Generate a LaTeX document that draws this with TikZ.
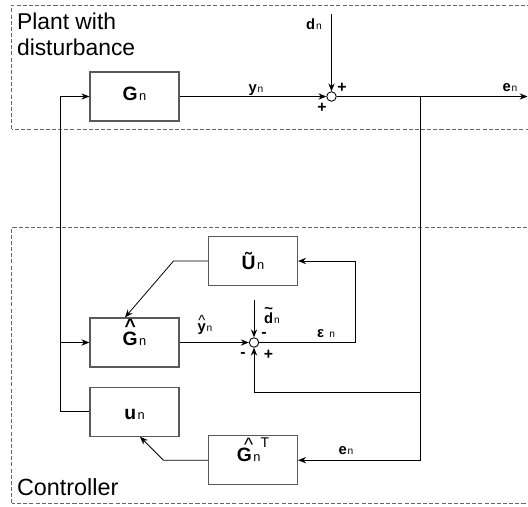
\documentclass[tikz,border=0pt]{standalone}
\usepackage{fontspec}
\setmainfont{Liberation Sans}
\usetikzlibrary{arrows.meta}

% mark set above a symbol, smashed so the node keeps its size
\newcommand{\overmark}[3]{\leavevmode\setbox0\hbox{#3}\rlap{\hbox to\wd0{\hss\raisebox{#2}[0pt][0pt]{#1}\hss}}\box0}
\newcommand{\bn}{\hspace{0.08em}{\mdseries\fontsize{7.3}{9}\selectfont n}}
\newcommand{\lsub}{\hspace{0.06em}{\mdseries\fontsize{5.8}{7}\selectfont n}}

\begin{document}
\begin{tikzpicture}[
		>={Stealth[length=4.5pt,width=3.6pt]},
		block/.style={draw=black!65, line width=0.7pt, minimum width=1.78cm, minimum height=0.98cm,
			inner sep=0pt, text height=0.716em, text depth=0pt, font=\fontsize{11}{13}\selectfont\bfseries},
		junction/.style={circle, draw, line width=0.5pt, fill=white, minimum size=0.19cm, inner sep=0pt},
		zone/.style={draw=black!60, line width=0.5pt, dash pattern=on 2.3pt off 1.2pt},
		sig/.style={font=\fontsize{8.4}{10}\selectfont\bfseries, inner sep=0pt, anchor=base},
		sign/.style={font=\fontsize{9}{10}\selectfont\bfseries, inner sep=0pt},
		wire/.style={line width=0.55pt},
		slant/.style={line width=0.45pt},
	]
	\useasboundingbox (0,0) rectangle (10.56,10.12);

	% ---------- plant with disturbance ----------
	\draw[zone] (0.234,7.534) rectangle (10.8,10.02);
	\node[anchor=north west, inner sep=0pt, align=left, font=\fontsize{13}{14.8}\selectfont]
		(plantlbl) at (0.334,9.866) {Plant with\\disturbance};
	\node[block] (G) at (2.69,8.19) {\raisebox{0.1em}{G\bn}};
	\node[junction] (s1) at (6.63,8.19) {};
	\coordinate (dtop) at (6.63,9.85);
	\coordinate (eout) at (10.55,8.19);
	\coordinate (br) at (8.40,8.19);
	\coordinate (fb) at (1.20,8.19);
	\draw[wire,->] (G.east) -- (s1.west);
	\draw[wire,->] (dtop) -- (s1.north);
	\draw[wire,->] (s1.east) -- (eout);
	\node[sig] (ylbl) at (5.12,8.27) {y\lsub};
	\node[sig] (dlbl) at (6.28,9.53) {d\lsub};
	\node[sig] (elbl) at (10.2,8.29) {e\lsub};
	\node[sign] (pa) at (6.84,8.36) {+};
	\node[sign] (pb) at (6.44,7.96) {+};

	% ---------- controller ----------
	\draw[zone] (0.234,0.054) rectangle (10.8,5.574);
	\node[anchor=base west, inner sep=0pt, font=\fontsize{13.3}{15}\selectfont]
		(ctrllbl) at (0.334,0.22) {Controller};
	\node[block] (Ut) at (5.06,4.90) {\raisebox{-0.1em}{Ũ\bn}};
	\node[block] (Gh) at (2.69,3.27) {\raisebox{0.18em}{\overmark{\textasciicircum}{0.64em}{G}\bn}};
	\node[block] (u) at (2.69,1.886) {\raisebox{-0.1em}{u\bn}};
	\node[block] (GT) at (5.06,0.916)
		{\raisebox{0.25em}{\overmark{\mdseries\textasciicircum}{0.5em}{G\bn}\raisebox{0.75em}{\mdseries\fontsize{8}{9}\selectfont T}}};
	\node[junction] (s2) at (5.08,3.27) {};
	\coordinate (dttop) at (5.08,4.12);
	\coordinate (lp) at (7.11,3.27);
	\coordinate (uc) at (3.47,4.90);
	\coordinate (br2) at (8.40,2.27);
	\coordinate (gc) at (3.27,0.916);

	\draw[wire,->] (u.west) -| (fb) -- (G.west);
	\draw[wire,->] (fb |- Gh.west) -- (Gh.west);
	\draw[wire,->] (Gh.east) -- (s2.west);
	\draw[wire,->] (dttop) -- (s2.north);
	\draw[wire,->] (s2.east) -- (lp) |- (Ut.east);
	\draw[slant,->] (Ut.west) -- (uc) -- ([xshift=-0.19cm]Gh.north);
	\draw[wire,->] (br) |- (GT.east);
	\draw[wire,->] (br2) -| (s2.south);
	\draw[slant,->] (GT.west) -- (gc) -- ([xshift=0.11cm]u.south);

	\node[sig] (yhlbl) at (4.10,3.50) {\overmark{\mdseries\textasciicircum}{0.4em}{y}\lsub};
	\node[sig] (dtlbl) at (5.44,3.66) {\overmark{\textasciitilde}{0.66em}{d}\lsub};
	\node[sig] (eplbl) at (6.52,3.38) {ε\hspace{0.3em}\lsub};
	\node[sig] (elbl2) at (6.92,1.04) {e\lsub};
	\node[sign] (ma) at (5.28,3.42) {-};
	\node[sign] (mb) at (4.86,3.03) {-};
	\node[sign] (pc) at (5.37,3.02) {+};

\end{tikzpicture}
\end{document}
